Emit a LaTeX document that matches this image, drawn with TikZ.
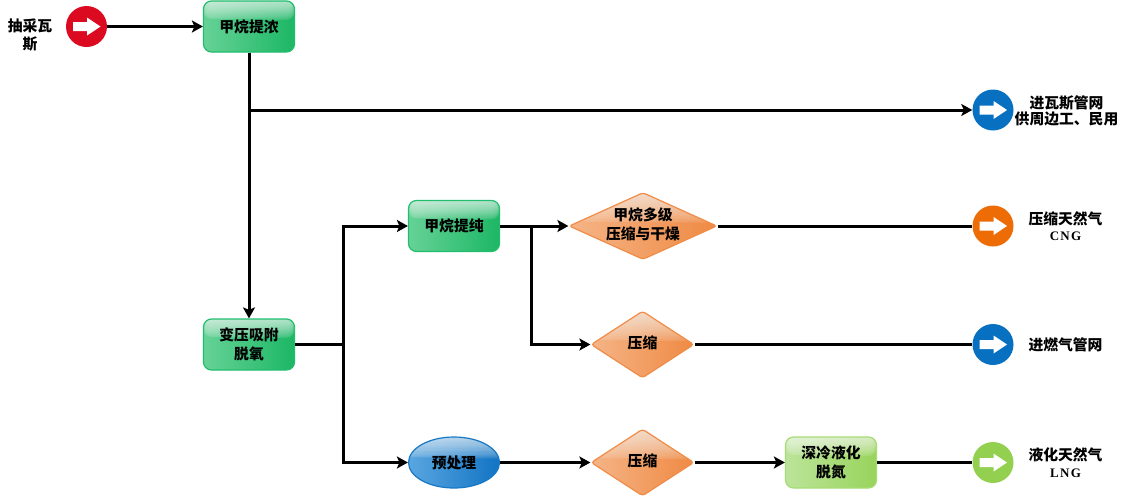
\documentclass[tikz,border=0pt]{standalone}
\usepackage{fontspec}
\setmainfont{Liberation Serif}
\newfontfamily\cjk{Noto Sans CJK SC}
\usetikzlibrary{shapes.geometric,arrows.meta,calc}
\definecolor{greenA}{HTML}{66D296}\definecolor{greenB}{HTML}{1CB765}\definecolor{greenE}{HTML}{22BE6E}
\definecolor{orangeA}{HTML}{F5B486}\definecolor{orangeB}{HTML}{EF8A44}\definecolor{orangeE}{HTML}{F08C48}
\definecolor{blueA}{HTML}{5AA6E0}\definecolor{blueB}{HTML}{1274C4}\definecolor{blueE}{HTML}{1878C4}
\definecolor{limeA}{HTML}{BCE49A}\definecolor{limeB}{HTML}{98D45C}\definecolor{limeE}{HTML}{A6DC74}
\definecolor{iconRed}{HTML}{DC0A20}\definecolor{iconBlue}{HTML}{0870C0}
\definecolor{iconOrange}{HTML}{EE6C06}\definecolor{iconLime}{HTML}{94D050}
\tikzset{
  x=1pt,y=-1pt,
  every node/.style={font=\cjk\bfseries\fontsize{14.8}{18}\selectfont,align=center,text=black,inner sep=0pt},
  % soft highlight over the upper part of a shape: nested translucent layers under a curved lower edge
  gloss/.style={path picture={
    \coordinate (gnw) at (path picture bounding box.north west);
    \coordinate (gne) at (path picture bounding box.north east);
    \coordinate (gsw) at (path picture bounding box.south west);
    \coordinate (gse) at (path picture bounding box.south east);
    \clip (gnw) -- (gne) -- ($(gne)!#1!(gse)$)
      .. controls ($(gne)!#1!(gse)+(-30pt,0pt)$) and ($(gnw)!#1!(gsw)+(30pt,1pt)$)
      .. ($(gnw)!#1!(gsw)+(0pt,1pt)$) -- cycle;
    \foreach \layer in {1,...,18}{
      \fill[white,opacity=0.06] (gnw) rectangle ($(gne)!{(\layer/18)*(#1+0.03)}!(gse)$);
    }
  }},
  boxshape/.style={rectangle,rounded corners=8pt,minimum width=91pt,minimum height=51pt,line width=1.2pt,gloss=0.37},
  greenbox/.style={boxshape,draw=greenE,left color=greenA,right color=greenB},
  limebox/.style={boxshape,draw=limeE,left color=limeA,right color=limeB},
  oval/.style={ellipse,minimum width=91pt,minimum height=51pt,line width=1.2pt,draw=blueE,left color=blueA,right color=blueB,gloss=0.42},
  rhomb/.style={diamond,rounded corners=3pt,minimum width=#1,minimum height=67pt,line width=1.2pt,draw=orangeE,
    left color=orangeA,right color=orangeB,gloss=0.45},
  icon/.style={circle,minimum size=41pt,fill=#1,path picture={
    \fill[white] ([shift={(-13.5pt,-4.5pt)}]path picture bounding box.center) -- ++(14pt,0pt) -- ++(0pt,-4.5pt)
      -- ++(13.5pt,9pt) -- ++(-13.5pt,9pt) -- ++(0pt,-4.5pt) -- ++(-14pt,0pt) -- cycle;
  }},
  caption/.style={font=\cjk\bfseries\fontsize{14.8}{#1}\selectfont},
  flow/.style={line width=3pt,line cap=butt,line join=miter,draw=black},
  arrowed/.style={flow,-{Stealth[length=11pt,width=12pt,inset=2.5pt]}},
}
\newcommand{\latinsub}[1]{{\fontspec{Liberation Serif}\bfseries\fontsize{13}{16}\selectfont\addfontfeatures{LetterSpace=10}#1}}
% Text block that takes no room, so that a diamond keeps its set size
\newcommand{\slimtext}[1]{\makebox[0pt]{\raisebox{-8pt}{\smash{\renewcommand{\arraystretch}{1.05}\begin{tabular}{@{}c@{}}#1\end{tabular}}}}}
\begin{document}
\begin{tikzpicture}
\useasboundingbox[fill=white] (0,0) rectangle (1124,496);

% process blocks
\node[greenbox] (concentrate) at (249,26.5) {甲烷提浓};
\node[greenbox] (vpsa) at (249,344.5) {变压吸附\\[1pt]脱氧};
\node[greenbox] (purify) at (454,226) {甲烷提纯};
\node[oval] (pretreat) at (454,462.5) {预处理};
\node[limebox] (liquefy) at (831,462.5) {深冷液化\\[1pt]脱氮};
\node[rhomb=148pt] (multistage) at (643,226) {\slimtext{甲烷多级\\压缩与干燥}};
\node[rhomb=103pt] (compressA) at (642.5,344.5) {\slimtext{压缩}};
\node[rhomb=103pt] (compressB) at (642.5,462.5) {\slimtext{压缩}};

% source and product terminals
\node[icon=iconRed] (source) at (86.5,26.5) {};
\node[icon=iconBlue] (grid) at (993,110) {};
\node[icon=iconOrange] (cng) at (993,226) {};
\node[icon=iconBlue] (gasnet) at (993,344.5) {};
\node[icon=iconLime] (lng) at (993,462.5) {};

% captions
\node[caption=18] (sourcetext) at (30,35) {抽采瓦\\斯};
\node[caption=16.5] (gridtext) at (1066.5,111) {进瓦斯管网\\供周边工、民用};
\node[caption=16] (cngtext) at (1065.5,226) {压缩天然气\\\latinsub{CNG}};
\node (gasnettext) at (1065.5,345) {进燃气管网};
\node[caption=17] (lngtext) at (1065.5,462.5) {液化天然气\\\latinsub{LNG}};

% branch points
\coordinate (tapgrid) at (concentrate.south |- grid.west);
\coordinate (split) at (343,344.5);
\coordinate (splitup) at (split |- purify.west);
\coordinate (splitdown) at (split |- pretreat.west);
\coordinate (tapcomp) at (531,226);
\coordinate (tapcompdown) at (tapcomp |- compressA.west);

% connectors
\draw[arrowed] (source.east) -- (concentrate.west);
\draw[arrowed] (concentrate.south) -- (vpsa.north);
\draw[arrowed] (tapgrid) -- (grid.west);
\draw[flow] (vpsa.east) -- (split);
\draw[arrowed] (split) -- (splitup) -- (purify.west);
\draw[arrowed] (split) -- (splitdown) -- (pretreat.west);
\draw[arrowed] (purify.east) -- (multistage.west);
\draw[arrowed] (tapcomp) -- (tapcompdown) -- (compressA.west);
\draw[flow] (multistage.east) -- (cng.west);
\draw[flow] (compressA.east) -- (gasnet.west);
\draw[arrowed] (pretreat.east) -- (compressB.west);
\draw[arrowed] (compressB.east) -- (liquefy.west);
\draw[flow] (liquefy.east) -- (lng.west);
\end{tikzpicture}
\end{document}
